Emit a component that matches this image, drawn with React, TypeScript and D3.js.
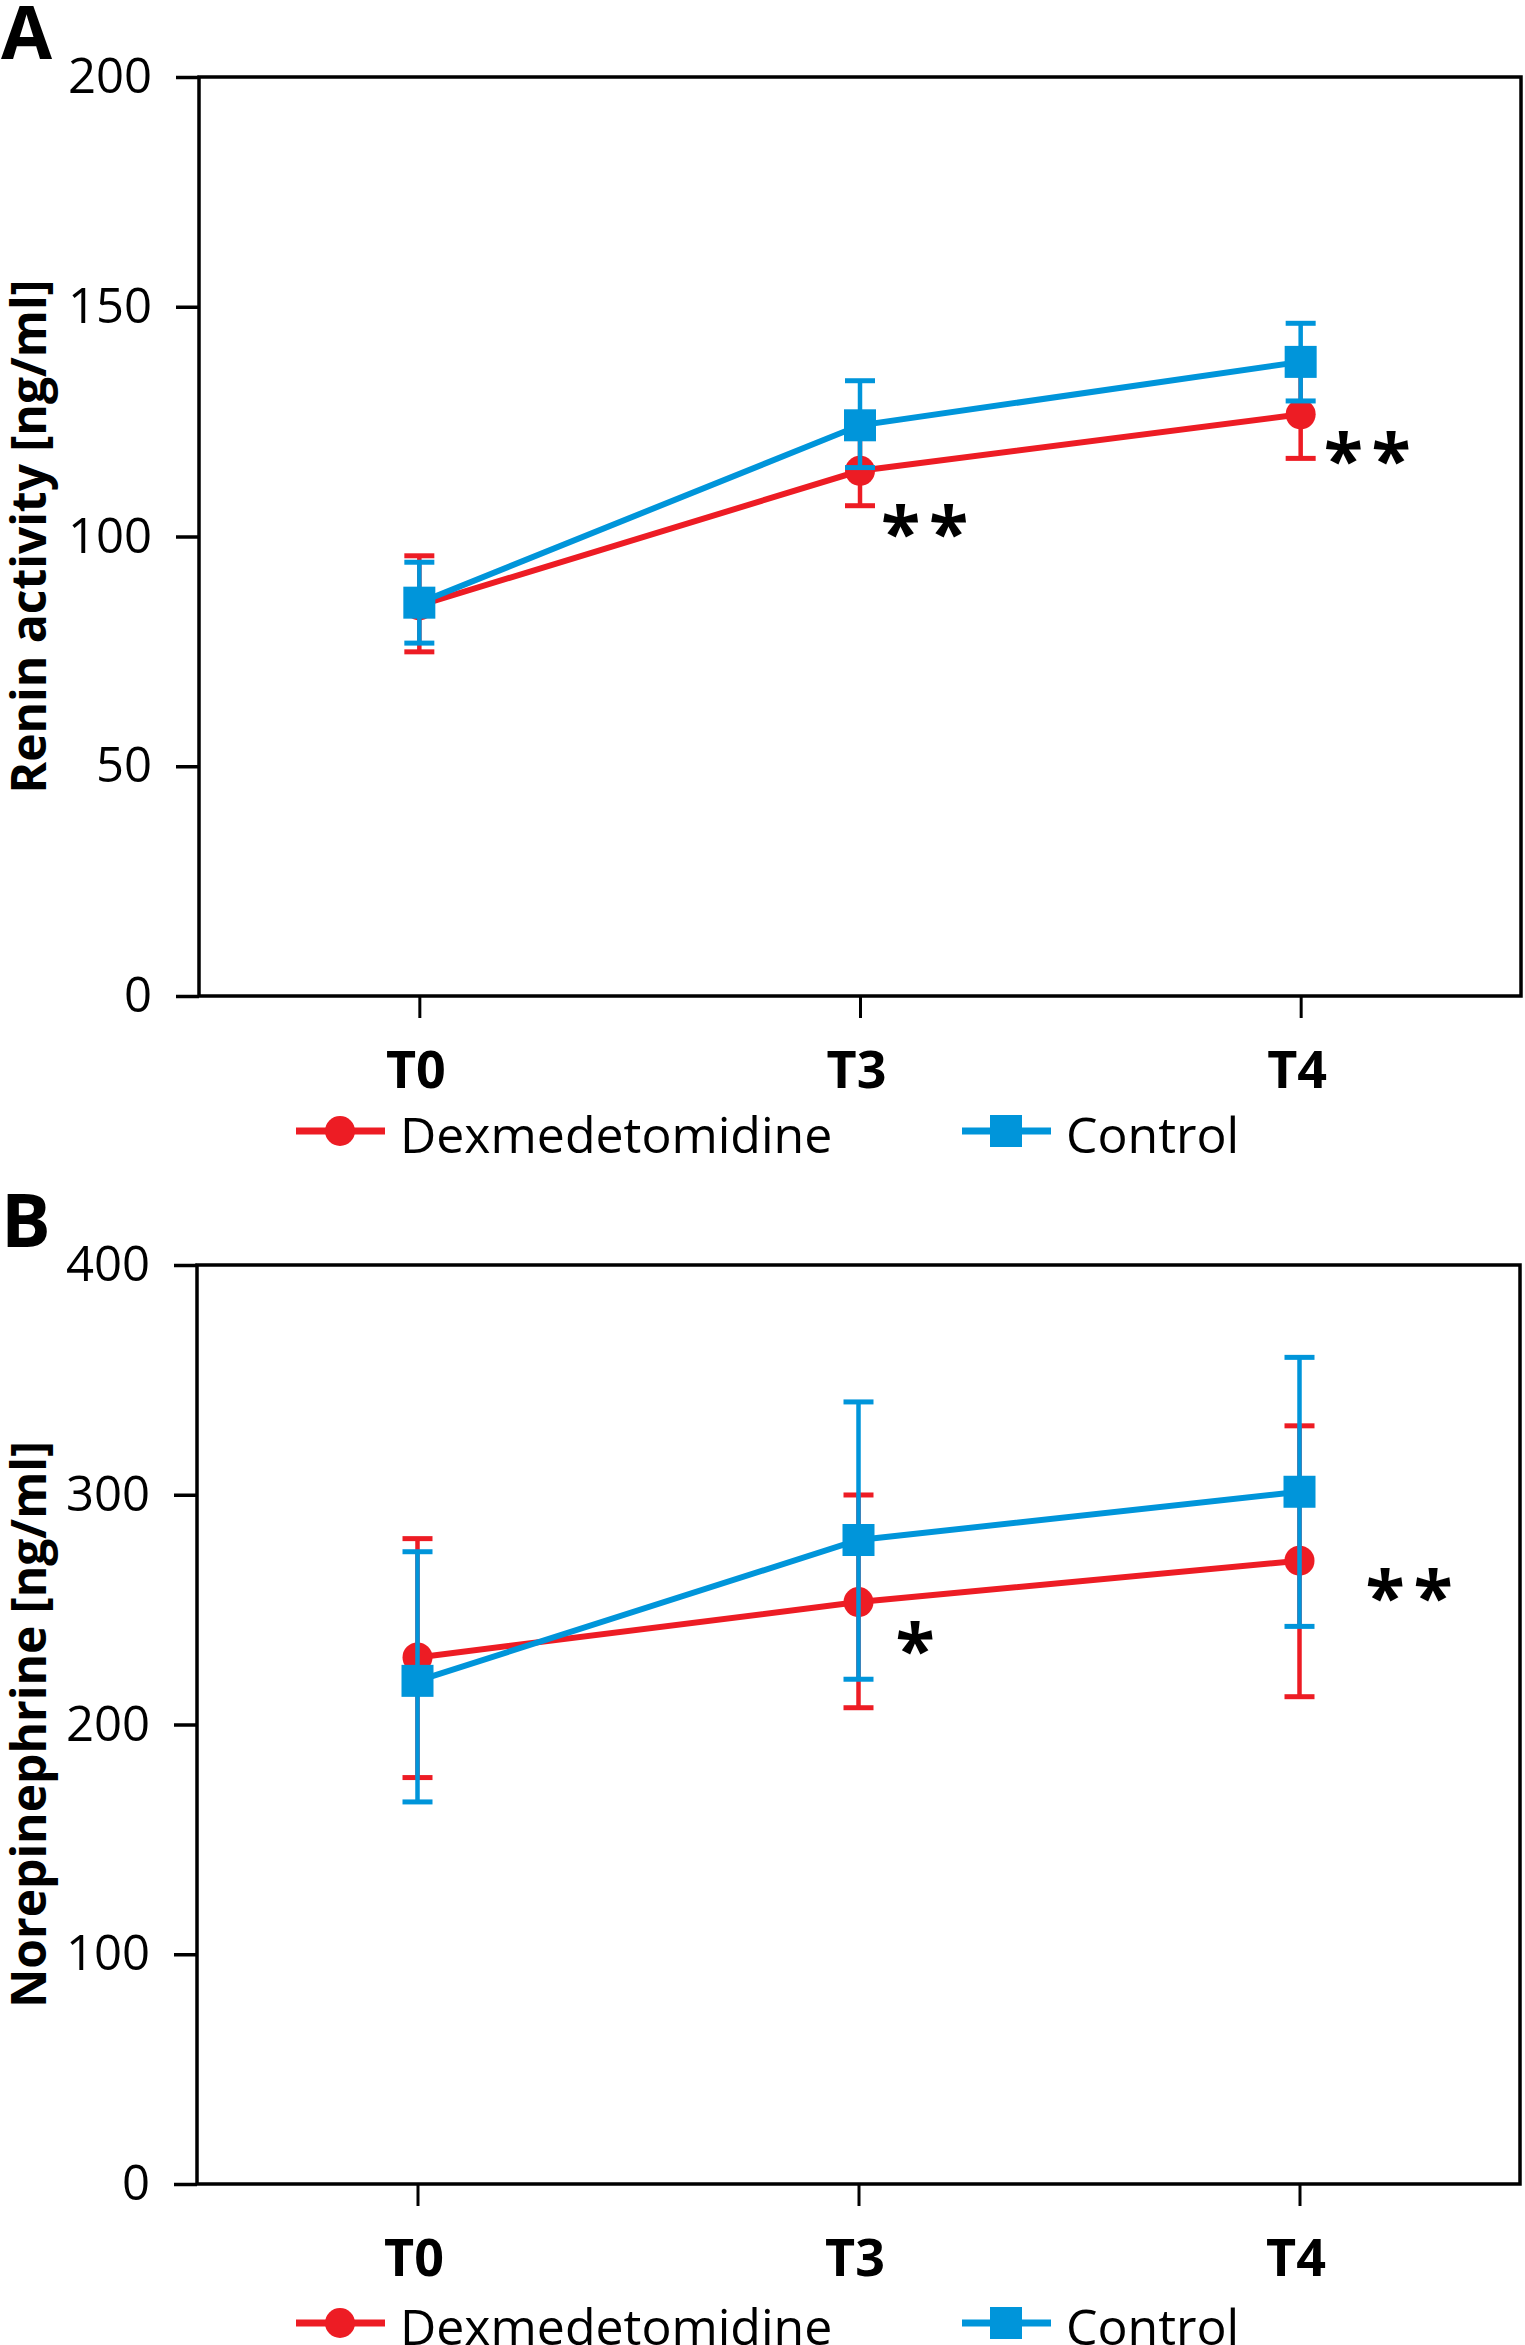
import React from "react";
import * as d3 from "d3";

// time points on the x axis
const timepoints = ["T0", "T3", "T4"];
const seriesNames = ["Dexmedetomidine", "Control"];

// panel A: renin activity [ng/ml]
const reninDex = [85.0, 114.3, 126.6];
const reninDexHigh = [95.8, 121.9, 136.2];
const reninDexLow = [74.9, 106.7, 117.0];
const reninCtrl = [85.6, 124.2, 138.0];
const reninCtrlHigh = [94.4, 133.9, 146.4];
const reninCtrlLow = [76.8, 115.0, 129.5];
const reninTicks = [0, 50, 100, 150, 200];
const reninStars = [
  { t: "T3", v: 104, label: "* *" },
  { t: "T4", v: 120, label: "* *" },
];

// panel B: norepinephrine [ng/ml]
const norepiDex = [229.2, 253.3, 271.3];
const norepiDexHigh = [280.9, 299.9, 330.0];
const norepiDexLow = [176.9, 207.3, 212.1];
const norepiCtrl = [219.0, 280.3, 301.3];
const norepiCtrlHigh = [275.2, 340.4, 359.8];
const norepiCtrlLow = [166.3, 219.7, 242.7];
const norepiTicks = [0, 100, 200, 300, 400];
const norepiStars = [
  { t: "T3", v: 239, label: "*" },
  { t: "T4", v: 262, label: "* *" },
];

const RED = "#ED1C24";
const BLUE = "#0095DA";
const FONT = "'Open Sans', 'DejaVu Sans', sans-serif";

interface Series {
  name: string;
  color: string;
  shape: "circle" | "square";
  mean: number[];
  high: number[];
  low: number[];
}

interface PanelConfig {
  letter: string;
  yLabel: string;
  ticks: number[];
  series: Series[];
  stars: { t: string; v: number; label: string }[];
  starDx: number[];
  left: number;
  right: number;
  top: number;
  bottom: number;
  legendY: number;
}

const panels: PanelConfig[] = [
  {
    letter: "A",
    yLabel: "Renin activity [ng/ml]",
    ticks: reninTicks,
    series: [
      { name: seriesNames[0], color: RED, shape: "circle", mean: reninDex, high: reninDexHigh, low: reninDexLow },
      { name: seriesNames[1], color: BLUE, shape: "square", mean: reninCtrl, high: reninCtrlHigh, low: reninCtrlLow },
    ],
    stars: reninStars,
    starDx: [21, 23],
    left: 199,
    right: 1521,
    top: 77,
    bottom: 996,
    legendY: 1131,
  },
  {
    letter: "B",
    yLabel: "Norepinephrine [ng/ml]",
    ticks: norepiTicks,
    series: [
      { name: seriesNames[0], color: RED, shape: "circle", mean: norepiDex, high: norepiDexHigh, low: norepiDexLow },
      { name: seriesNames[1], color: BLUE, shape: "square", mean: norepiCtrl, high: norepiCtrlHigh, low: norepiCtrlLow },
    ],
    stars: norepiStars,
    starDx: [37, 66],
    left: 197,
    right: 1520,
    top: 1265,
    bottom: 2184,
    legendY: 2323,
  },
];

function drawPanel(svg: d3.Selection<SVGSVGElement, unknown, null, undefined>, p: PanelConfig) {
  const x = d3.scalePoint<string>().domain(timepoints).range([p.left, p.right]).padding(0.5);
  const y = d3
    .scaleLinear()
    .domain([0, p.ticks[p.ticks.length - 1]])
    .range([p.bottom, p.top]);

  const g = svg.append("g").attr("font-family", FONT);

  // frame
  g.append("rect")
    .attr("x", p.left)
    .attr("y", p.top)
    .attr("width", p.right - p.left)
    .attr("height", p.bottom - p.top)
    .attr("fill", "none")
    .attr("stroke", "#000")
    .attr("stroke-width", 3.5);

  // y axis
  const yAxis = g
    .append("g")
    .attr("transform", `translate(${p.left},0)`)
    .call(d3.axisLeft(y).tickValues(p.ticks).tickSize(23).tickSizeOuter(0).tickPadding(24));
  yAxis.select(".domain").remove();
  yAxis.selectAll("line").attr("stroke", "#000").attr("stroke-width", 3.5);
  yAxis
    .selectAll("text")
    .attr("font-family", FONT)
    .attr("font-size", 49)
    .attr("fill", "#000");

  // x axis
  const xAxis = g
    .append("g")
    .attr("transform", `translate(0,${p.bottom})`)
    .call(d3.axisBottom(x).tickSize(22).tickSizeOuter(0));
  xAxis.select(".domain").remove();
  xAxis.selectAll("line").attr("stroke", "#000").attr("stroke-width", 3);
  xAxis
    .selectAll("text")
    .attr("x", -4)
    .attr("y", 92)
    .attr("dy", null)
    .attr("font-family", FONT)
    .attr("font-weight", "bold")
    .attr("font-size", 52)
    .attr("fill", "#000");

  // y label
  g.append("text")
    .attr("transform", `translate(46,${(p.top + p.bottom) / 2}) rotate(-90)`)
    .attr("text-anchor", "middle")
    .attr("font-weight", "bold")
    .attr("font-size", 48)
    .text(p.yLabel);

  // panel letter
  g.append("text")
    .attr("x", 1)
    .attr("y", p.top - 18)
    .attr("font-weight", "bold")
    .attr("font-size", 74)
    .text(p.letter);

  const line = d3
    .line<number>()
    .x((_, i) => x(timepoints[i])!)
    .y((d) => y(d));

  p.series.forEach((s) => {
    const sg = g.append("g");
    // error bars
    s.mean.forEach((_, i) => {
      const cx = x(timepoints[i])!;
      sg.append("line")
        .attr("x1", cx)
        .attr("x2", cx)
        .attr("y1", y(s.high[i]))
        .attr("y2", y(s.low[i]))
        .attr("stroke", s.color)
        .attr("stroke-width", 4.5);
      [s.high[i], s.low[i]].forEach((v) => {
        sg.append("line")
          .attr("x1", cx - 15)
          .attr("x2", cx + 15)
          .attr("y1", y(v))
          .attr("y2", y(v))
          .attr("stroke", s.color)
          .attr("stroke-width", 5);
      });
    });
    sg.append("path")
      .datum(s.mean)
      .attr("d", line)
      .attr("fill", "none")
      .attr("stroke", s.color)
      .attr("stroke-width", 6);
    s.mean.forEach((v, i) => {
      const cx = x(timepoints[i])!;
      if (s.shape === "circle") {
        sg.append("circle").attr("cx", cx).attr("cy", y(v)).attr("r", 15).attr("fill", s.color);
      } else {
        sg.append("rect")
          .attr("x", cx - 16)
          .attr("y", y(v) - 16)
          .attr("width", 32)
          .attr("height", 32)
          .attr("fill", s.color);
      }
    });
  });

  // significance marks
  p.stars.forEach((st, i) => {
    g.append("text")
      .attr("x", x(st.t)! + p.starDx[i])
      .attr("y", y(st.v) + 0.57 * 72)
      .attr("font-weight", "bold")
      .attr("font-size", 72)
      .attr("letter-spacing", -5)
      .attr("xml:space", "preserve")
      .text(st.label);
  });

  // legend
  const legendX = [340, 1006];
  p.series.forEach((s, i) => {
    const lx = legendX[i];
    const lg = g.append("g");
    lg.append("line")
      .attr("x1", lx - 44)
      .attr("x2", lx + 45)
      .attr("y1", p.legendY)
      .attr("y2", p.legendY)
      .attr("stroke", s.color)
      .attr("stroke-width", 7);
    if (s.shape === "circle") {
      lg.append("circle").attr("cx", lx).attr("cy", p.legendY).attr("r", 15).attr("fill", s.color);
    } else {
      lg.append("rect")
        .attr("x", lx - 16)
        .attr("y", p.legendY - 16)
        .attr("width", 32)
        .attr("height", 32)
        .attr("fill", s.color);
    }
    lg.append("text")
      .attr("x", lx + 60)
      .attr("y", p.legendY + 22)
      .attr("font-size", 50)
      .text(s.name);
  });
}

const App: React.FC = () => {
  const svgRef = React.useRef<SVGSVGElement | null>(null);

  React.useEffect(() => {
    document.body.style.margin = "0";
    if (!svgRef.current) return;
    const svg = d3.select(svgRef.current);
    svg.selectAll("*").remove();
    svg.append("rect").attr("width", 1525).attr("height", 2345).attr("fill", "#fff");
    panels.forEach((p) => drawPanel(svg, p));
  }, []);

  return <svg ref={svgRef} width={1525} height={2345} style={{ display: "block" }}></svg>;
};

export default App;
